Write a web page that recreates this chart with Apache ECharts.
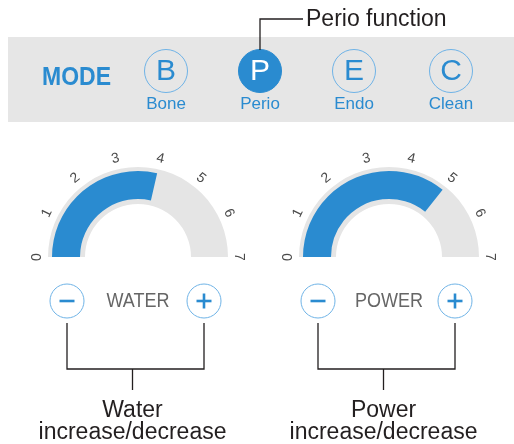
<!DOCTYPE html>
<html>
<head>
<meta charset="utf-8">
<style>
  html, body { margin: 0; padding: 0; background: #fff; }
  #main { width: 514px; height: 444px; }
</style>
<script src="https://cdn.jsdelivr.net/npm/echarts@6/dist/echarts.min.js"></script>
</head>
<body>
<div id="main"></div>
<script>
// mode keys on the panel
var modeKeys = ['B', 'P', 'E', 'C'];
var modeNames = ['Bone', 'Perio', 'Endo', 'Clean'];
var activeMode = 'P';
var modeNote = 'Perio function';

// gauge levels
var gaugeNames = ['WATER', 'POWER'];
var gaugeValues = [4, 5];
var gaugeMin = 0;
var gaugeMax = 7;
var gaugeCaptions = [['Water', 'increase/decrease'], ['Power', 'increase/decrease']];

var BLUE = '#2a8bd0';
var RING = '#6fb3e6';
var INK = '#231f20';
var FONT = '"Liberation Sans", Arial, sans-serif';

var chart = echarts.init(document.getElementById('main'));

var modeX = [166, 260, 354, 451];
var gaugeX = [138, 389];
var gaugeY = 257;

var graphics = [];

//灰色面板
graphics.push({ type: 'rect', shape: { x: 8, y: 37, width: 506, height: 85 }, style: { fill: '#e6e6e6' }, z: 0 });
graphics.push({
  type: 'text', x: 42, y: 78, scaleX: 0.92, z: 2,
  style: { text: 'MODE', font: 'bold 25px ' + FONT, fill: BLUE, textVerticalAlign: 'middle' }
});

modeKeys.forEach(function (k, i) {
  var on = k === activeMode;
  graphics.push({
    type: 'circle', shape: { cx: modeX[i], cy: 71, r: 21.5 }, z: 2,
    style: { fill: on ? BLUE : 'none', stroke: on ? BLUE : RING, lineWidth: 1 }
  });
  graphics.push({
    type: 'text', x: modeX[i], y: 72, z: 3,
    style: { text: k, font: '30px ' + FONT, fill: on ? '#fff' : BLUE, textAlign: 'center', textVerticalAlign: 'middle' }
  });
  graphics.push({
    type: 'text', x: modeX[i], y: 104, z: 3,
    style: { text: modeNames[i], font: '17px ' + FONT, fill: BLUE, textAlign: 'center', textVerticalAlign: 'middle' }
  });
});

// Perio 说明引线
var pIdx = modeKeys.indexOf(activeMode);
graphics.push({
  type: 'polyline', z: 3,
  shape: { points: [[modeX[pIdx], 50], [modeX[pIdx], 19], [303, 19]] },
  style: { stroke: INK, lineWidth: 1.3, fill: 'none' }
});
graphics.push({
  type: 'text', x: 306, y: 20, z: 3,
  style: { text: modeNote, font: '23px ' + FONT, fill: INK, textVerticalAlign: 'middle' }
});

// 加减按钮 + 括号引线
gaugeNames.forEach(function (name, i) {
  var cx = gaugeX[i];
  var mx = cx - 71, px = cx + 66;
  [mx, px].forEach(function (x) {
    graphics.push({ type: 'circle', shape: { cx: x, cy: 301, r: 17 }, style: { fill: '#fff', stroke: RING, lineWidth: 1 }, z: 2 });
    graphics.push({ type: 'line', shape: { x1: x - 7.5, y1: 301, x2: x + 7.5, y2: 301 }, style: { stroke: BLUE, lineWidth: 2.6 }, z: 3 });
  });
  graphics.push({ type: 'line', shape: { x1: px, y1: 293.5, x2: px, y2: 308.5 }, style: { stroke: BLUE, lineWidth: 2.6 }, z: 3 });
  graphics.push({
    type: 'text', x: cx, y: 301, scaleX: 0.9, z: 3,
    style: { text: name, font: '20px ' + FONT, fill: '#666', textAlign: 'center', textVerticalAlign: 'middle' }
  });
  var mid = (mx + px) / 2 - 3;
  graphics.push({
    type: 'polyline', z: 2,
    shape: { points: [[mx, 323], [mx, 369], [px, 369], [px, 323]] },
    style: { stroke: INK, lineWidth: 1.3, fill: 'none' }
  });
  graphics.push({ type: 'line', shape: { x1: mid, y1: 369, x2: mid, y2: 390 }, style: { stroke: INK, lineWidth: 1.3 }, z: 2 });
  graphics.push({
    type: 'text', x: mid, y: 411, z: 3,
    style: { text: gaugeCaptions[i][0], font: '23px ' + FONT, fill: INK, textAlign: 'center', textVerticalAlign: 'middle' }
  });
  graphics.push({
    type: 'text', x: mid, y: 433, z: 3,
    style: { text: gaugeCaptions[i][1], font: '23px ' + FONT, fill: INK, textAlign: 'center', textVerticalAlign: 'middle' }
  });
});

var series = [];
gaugeValues.forEach(function (v, i) {
  // 灰色底环 + 刻度数字
  series.push({
    type: 'gauge',
    center: [gaugeX[i], gaugeY],
    radius: 90,
    startAngle: 180,
    endAngle: 0,
    min: gaugeMin,
    max: gaugeMax,
    splitNumber: gaugeMax - gaugeMin,
    axisLine: { lineStyle: { width: 37, color: [[1, '#e5e5e5']] } },
    splitLine: { show: false, length: 0, distance: 0 },
    axisTick: { show: false, length: 0, distance: 0 },
    axisLabel: { distance: -11, rotate: 'tangential', color: '#4a4a4a', fontSize: 14, fontFamily: FONT },
    pointer: { show: false },
    anchor: { show: false },
    title: { show: false },
    detail: { show: false },
    data: [{ value: 0 }],
    silent: true
  });
  // 蓝色进度
  series.push({
    type: 'gauge',
    center: [gaugeX[i], gaugeY],
    radius: 86,
    startAngle: 180,
    endAngle: 0,
    min: gaugeMin,
    max: gaugeMax,
    splitNumber: gaugeMax - gaugeMin,
    progress: { show: true, width: 28, itemStyle: { color: BLUE } },
    axisLine: { lineStyle: { width: 28, color: [[1, 'rgba(0,0,0,0)']] } },
    splitLine: { show: false },
    axisTick: { show: false },
    axisLabel: { show: false },
    pointer: { show: false },
    anchor: { show: false },
    title: { show: false },
    detail: { show: false },
    data: [{ value: v }],
    silent: true
  });
});

chart.setOption({
  animation: false,
  series: series,
  graphic: graphics
});
</script>
</body>
</html>
